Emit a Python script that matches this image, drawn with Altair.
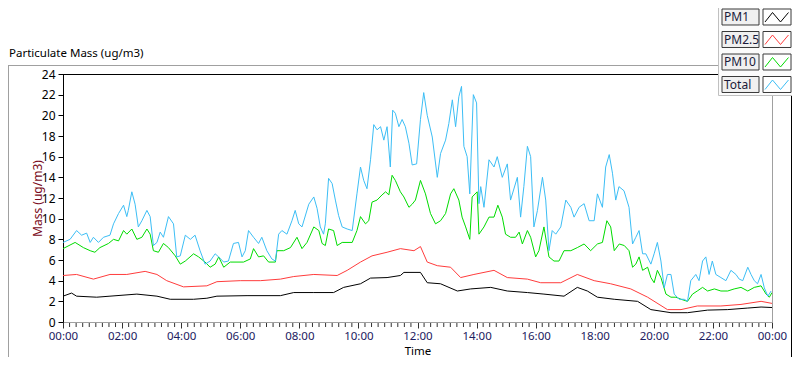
import altair as alt
import pandas as pd

FONT = "Noto Sans"

series_names = ["PM1", "PM2.5", "PM10", "Total"]
series_colors = ["#000000", "#ff3c3c", "#00dc00", "#3cbef5"]

pm1_t = [0.00, 0.29, 0.46, 1.14, 1.59, 2.50, 3.18, 3.63, 4.42, 4.87, 5.21, 6.23, 7.36, 7.81, 8.49,
         9.16, 9.50, 10.07, 10.41, 10.97, 11.42, 11.54, 12.10, 12.33, 12.78, 13.35, 13.80, 14.48,
         15.04, 15.72, 16.28, 16.96, 17.41, 17.75, 18.09, 18.66, 19.45, 19.90, 20.58, 21.14, 21.82,
         22.50, 23.18, 23.63, 24.00]
pm1_v = [2.5, 2.8, 2.5, 2.4, 2.5, 2.7, 2.5, 2.2, 2.2, 2.3, 2.5, 2.55, 2.55, 2.85, 2.85,
         2.85, 3.35, 3.7, 4.25, 4.3, 4.5, 4.8, 4.8, 3.8, 3.7, 3.0, 3.2, 3.35,
         3.0, 2.85, 2.7, 2.5, 3.35, 3.0, 2.4, 2.2, 2.0, 1.2, 0.9, 0.9, 1.15,
         1.2, 1.35, 1.45, 1.4]

pm25_t = [0.00, 0.46, 1.03, 1.59, 2.16, 2.78, 3.18, 3.51, 4.08, 4.87, 5.21, 6.00, 6.68, 7.36, 7.81,
          8.49, 9.28, 9.62, 10.07, 10.46, 10.97, 11.42, 11.88, 12.10, 12.33, 12.67, 13.12, 13.46,
          13.91, 14.59, 15.04, 15.72, 16.17, 16.85, 17.41, 17.98, 18.54, 19.22, 19.79, 20.46, 20.92,
          21.47, 22.27, 22.95, 23.63, 24.00]
pm25_v = [4.5, 4.6, 4.15, 4.6, 4.6, 4.9, 4.6, 4.0, 3.4, 3.5, 3.9, 4.0, 4.0, 4.15, 4.4,
          4.6, 4.5, 5.0, 5.8, 6.4, 6.75, 7.1, 6.9, 7.3, 5.8, 5.45, 5.3, 4.3,
          4.6, 5.0, 4.3, 4.15, 3.8, 3.8, 4.6, 4.0, 3.7, 3.2, 2.4, 1.2, 1.2,
          1.55, 1.55, 1.7, 2.0, 1.8]

pm10_t = [0.00, 0.41, 0.69, 0.92, 1.08, 1.25, 1.54, 1.71, 1.88, 2.05, 2.16, 2.33, 2.50, 2.67, 2.84,
          2.95, 3.06, 3.23, 3.40, 3.57, 3.80, 3.97, 4.14, 4.42, 4.59, 4.81, 4.98, 5.15, 5.27, 5.44,
          5.66, 5.89, 6.11, 6.34, 6.45, 6.62, 6.79, 6.96, 7.19, 7.24, 7.47, 7.70, 7.92, 8.09, 8.26,
          8.49, 8.66, 8.77, 8.88, 8.99, 9.16, 9.28, 9.45, 9.79, 9.95, 10.07, 10.24, 10.35, 10.46,
          10.63, 10.80, 10.92, 11.03, 11.14, 11.25, 11.42, 11.54, 11.71, 11.82, 11.93, 12.10, 12.27,
          12.44, 12.61, 12.78, 12.95, 13.12, 13.23, 13.40, 13.51, 13.63, 13.77, 13.85, 14.02, 14.08,
          14.25, 14.42, 14.59, 14.72, 14.87, 14.98, 15.15, 15.32, 15.44, 15.55, 15.72, 15.83, 16.00,
          16.11, 16.28, 16.45, 16.62, 16.79, 16.96, 17.19, 17.41, 17.64, 17.86, 18.09, 18.26, 18.41,
          18.54, 18.66, 18.83, 19.00, 19.16, 19.28, 19.39, 19.50, 19.62, 19.79, 19.90, 20.01, 20.12,
          20.24, 20.41, 20.58, 20.75, 20.92, 21.14, 21.31, 21.47, 21.65, 21.82, 22.05, 22.27, 22.50,
          22.72, 22.95, 23.18, 23.40, 23.63, 23.80, 23.91, 24.00]
pm10_v = [7.1, 7.7, 7.2, 6.9, 6.75, 7.2, 7.6, 8.0, 7.85, 8.85, 8.5, 9.0, 8.0, 8.2, 9.0,
          8.5, 6.9, 6.75, 7.6, 7.2, 6.4, 5.6, 5.9, 6.6, 6.3, 5.8, 5.3, 5.6, 6.3, 5.3,
          5.8, 5.8, 5.8, 6.1, 7.1, 6.3, 6.4, 5.8, 5.8, 6.9, 6.9, 7.2, 8.2, 7.1, 7.7,
          9.2, 8.85, 7.6, 7.4, 9.0, 8.85, 7.4, 7.7, 7.7, 8.85, 10.2, 9.5, 9.8, 11.6,
          11.8, 12.3, 12.6, 12.3, 14.2, 13.7, 12.6, 12.1, 11.1, 11.4, 11.8, 13.7, 12.4,
          10.5, 9.5, 9.8, 10.5, 12.4, 12.9, 11.8, 10.15, 9.2, 8.0, 12.1, 12.6, 8.5,
          9.2, 10.15, 10.15, 11.3, 10.15, 8.5, 8.2, 8.2, 8.7, 7.55, 8.85, 8.2, 6.3,
          6.9, 9.2, 6.3, 5.9, 5.9, 6.9, 6.9, 7.2, 7.55, 6.9, 7.55, 7.7, 9.8,
          9.2, 6.9, 7.55, 7.4, 6.9, 5.3, 5.6, 6.3, 5.0, 5.3, 4.3, 3.8, 5.0,
          4.3, 2.7, 2.4, 2.4, 2.2, 2.0, 2.7, 3.0, 3.35, 3.0, 3.2, 3.0, 3.0,
          3.2, 3.35, 3.0, 3.35, 3.5, 2.7, 2.4, 2.85]

total_t = [0.00, 0.24, 0.46, 0.63, 0.80, 0.92, 1.03, 1.20, 1.37, 1.59, 1.71, 1.88, 2.05, 2.16, 2.21,
           2.33, 2.44, 2.55, 2.67, 2.84, 2.95, 3.06, 3.18, 3.29, 3.40, 3.57, 3.74, 3.85, 3.97, 4.14,
           4.31, 4.47, 4.64, 4.81, 4.98, 5.15, 5.27, 5.44, 5.60, 5.77, 5.94, 6.06, 6.17, 6.28, 6.45,
           6.62, 6.73, 6.90, 7.07, 7.19, 7.30, 7.41, 7.58, 7.75, 7.86, 7.98, 8.09, 8.32, 8.49, 8.60,
           8.71, 8.82, 8.88, 8.99, 9.11, 9.22, 9.33, 9.45, 9.62, 9.79, 9.95, 10.07, 10.18, 10.29,
           10.41, 10.52, 10.63, 10.75, 10.86, 10.97, 11.08, 11.16, 11.25, 11.37, 11.48, 11.59, 11.71,
           11.82, 11.97, 12.10, 12.21, 12.33, 12.50, 12.67, 12.78, 12.95, 13.06, 13.18, 13.29, 13.40,
           13.49, 13.57, 13.68, 13.77, 13.89, 14.00, 14.08, 14.14, 14.25, 14.42, 14.59, 14.70, 14.87,
           15.04, 15.15, 15.38, 15.49, 15.60, 15.72, 15.83, 15.94, 16.06, 16.23, 16.34, 16.45, 16.56,
           16.68, 16.85, 17.02, 17.19, 17.30, 17.47, 17.64, 17.81, 17.98, 18.09, 18.26, 18.37, 18.49,
           18.60, 18.71, 18.82, 18.99, 19.16, 19.28, 19.39, 19.50, 19.62, 19.73, 19.90, 20.01, 20.12,
           20.24, 20.35, 20.46, 20.58, 20.69, 20.86, 21.03, 21.14, 21.25, 21.42, 21.53, 21.65, 21.76,
           21.87, 21.98, 22.10, 22.27, 22.44, 22.61, 22.78, 22.89, 23.01, 23.18, 23.29, 23.40, 23.51,
           23.63, 23.74, 23.86, 23.97]
total_v = [7.7, 8.0, 8.85, 8.4, 8.6, 7.7, 8.2, 7.7, 8.2, 8.4, 9.5, 10.5, 11.3, 10.2, 10.8,
           12.6, 11.4, 9.2, 9.8, 10.8, 10.2, 7.4, 7.7, 8.7, 8.2, 10.2, 9.5, 6.3, 6.4, 8.4,
           8.0, 8.4, 6.9, 5.6, 5.9, 6.6, 6.3, 5.8, 5.9, 7.6, 7.7, 6.3, 6.9, 8.85, 8.2,
           7.6, 8.2, 6.9, 6.1, 5.9, 8.5, 8.85, 8.5, 9.8, 10.8, 9.5, 9.2, 11.4, 12.1, 11.0,
           9.2, 8.5, 9.5, 13.9, 13.4, 11.8, 10.3, 9.2, 9.0, 8.85, 12.4, 15.0, 13.7, 12.9,
           15.7, 19.1, 18.6, 18.9, 17.6, 18.9, 15.0, 20.5, 20.2, 18.9, 19.6, 18.9, 17.3,
           15.2, 15.3, 19.6, 22.2, 20.0, 17.9, 14.0, 16.3, 17.6, 19.2, 21.5, 18.9, 21.8,
           22.8, 17.0, 16.0, 12.4, 22.0, 21.2, 11.45, 13.1, 11.1, 15.7, 15.0, 16.0, 14.0,
           15.3, 11.8, 14.0, 10.15, 13.1, 17.0, 16.0, 9.2, 10.8, 14.0, 11.8, 6.9, 8.85,
           8.5, 9.2, 11.8, 11.1, 10.15, 11.1, 11.45, 9.8, 9.8, 12.4, 11.1, 15.0, 16.2,
           14.4, 11.8, 13.1, 12.7, 11.1, 7.55, 8.2, 8.85, 6.6, 6.6, 5.6, 6.6, 7.7,
           5.9, 3.3, 4.6, 4.6, 2.7, 2.2, 2.2, 2.0, 4.0, 4.6, 4.0, 5.9, 6.3,
           4.6, 5.9, 4.6, 4.3, 4.0, 5.0, 4.6, 4.15, 4.0, 5.3, 4.6, 4.0, 3.7,
           4.6, 3.3, 2.5, 3.0]

x_major = list(range(0, 25, 2))
y_major = list(range(0, 25, 2))
x_minor = [k * 2 / 9 for k in range(0, 109) if k % 9 != 0]

rows = []
for name, ts, vs in [("PM1", pm1_t, pm1_v), ("PM2.5", pm25_t, pm25_v),
                     ("PM10", pm10_t, pm10_v), ("Total", total_t, total_v)]:
    for t, v in zip(ts, vs):
        rows.append({"t": t, "v": v, "series": name})
df = pd.DataFrame(rows)

W, H = 709, 248
color_scale = alt.Scale(domain=series_names, range=series_colors)
xscale = alt.Scale(domain=[0, 24], nice=False, zero=False)

lines = alt.Chart(df).mark_line(strokeWidth=1, clip=True).encode(
    x=alt.X("t:Q", scale=xscale, title="Time",
            axis=alt.Axis(values=x_major, tickSize=6, tickColor="#333333", domainColor="#a0a0a0",
                          labelExpr="(datum.value % 24 < 10 ? '0' : '') + (datum.value % 24) + ':00'",
                          labelFont=FONT, labelFontSize=11.5, labelColor="#1c2060", labelPadding=2,
                          labelFlush=False, labelOverlap=False, grid=False,
                          titleFont=FONT, titleFontSize=11.5, titleFontWeight="normal", titleColor="#000000",
                          titleY=29.5, titleBaseline="middle")),
    y=alt.Y("v:Q", scale=alt.Scale(domain=[0, 24], nice=False), title="Mass (ug/m3)",
            axis=alt.Axis(values=y_major, tickSize=5, tickColor="#000000", domainColor="#000000",
                          labelFont=FONT, labelFontSize=12, labelColor="#000000", labelPadding=3,
                          labelFlush=False, labelOverlap=False, grid=False,
                          titleFont=FONT, titleFontSize=12, titleFontWeight="normal", titleColor="#7a0a20",
                          titleX=-26, titleY=124, titleAngle=-90, titleBaseline="middle", titleAlign="center")),
    color=alt.Color("series:N", scale=color_scale, legend=None),
    detail="series:N",
)

minor = alt.Chart(pd.DataFrame({"t": x_minor})).mark_rule(color="#333333", strokeWidth=1).encode(
    x=alt.X("t:Q", scale=xscale, title="Time"),
    y=alt.value(249), y2=alt.value(253),
)

one = pd.DataFrame({"k": [0]})


def hrule(x1, x2, y, color):
    return alt.Chart(one).mark_rule(color=color, strokeWidth=1).encode(
        x=alt.value(x1), x2=alt.value(x2), y=alt.value(y))


def vrule(x, y1, y2, color):
    return alt.Chart(one).mark_rule(color=color, strokeWidth=1).encode(
        x=alt.value(x), y=alt.value(y1), y2=alt.value(y2))


frame = [
    hrule(-55, 659, -8.5, "#a0a0a0"),      # title underline
    vrule(-54.5, -8.5, 290, "#a0a0a0"),    # outer left
    vrule(728.5, 22, 290, "#000000"),      # outer right
    hrule(0, 659, 0.5, "#000000"),         # plot top
    vrule(709.5, 0, 248, "#a0a0a0"),       # plot right
]

panel = alt.Chart(one).mark_rect(fill="#fbfbfb", stroke="#c0c0c0", strokeWidth=1).encode(
    x=alt.value(655.5), x2=alt.value(740), y=alt.value(-70), y2=alt.value(21.5))

leg = pd.DataFrame({"series": series_names})
ly = alt.Y("series:N", scale=alt.Scale(type="point", domain=series_names, range=[-57, 10.5], padding=0),
           axis=None)

box_label = alt.Chart(leg).mark_point(
    shape="M-1,-0.432H1V0.432H-1Z", size=1369, filled=True, fill="#f0f0f0", stroke="#3a3a3a",
    strokeWidth=1, opacity=1).encode(x=alt.value(677.5), y=ly)
box_glyph = alt.Chart(leg).mark_point(
    shape="M-1,-0.571H1V0.571H-1Z", size=784, filled=True, fill="#ffffff", stroke="#3a3a3a",
    strokeWidth=1, opacity=1).encode(x=alt.value(714), y=ly)
glyph = alt.Chart(leg).mark_point(
    shape="M-0.857,0.357L-0.32,-0.32L0.25,0.357L0.82,-0.32", size=784, filled=False,
    strokeWidth=1, opacity=1).encode(
    x=alt.value(714), y=ly, color=alt.Color("series:N", scale=color_scale, legend=None))
label = alt.Chart(leg).mark_text(align="left", baseline="middle", font=FONT, fontSize=12,
                                 color="#1a1a3a").encode(x=alt.value(661), y=ly, text="series:N")

title = alt.Chart(one).mark_text(align="left", baseline="middle", font=FONT, fontSize=11.5,
                                 color="#000000").encode(
    x=alt.value(-54), y=alt.value(-20), text=alt.value("Particulate Mass (ug/m3)"))

chart = alt.layer(
    *frame, lines, minor, panel, box_label, box_glyph, glyph, label, title
).resolve_scale(y="independent").properties(
    width=W, height=H,
    autosize=alt.AutoSizeParams(type="none"),
    padding={"left": 55, "top": 66, "right": 20, "bottom": 35},
).configure_view(stroke=None).configure(background="#ffffff")

chart.save("out.html", embed_options={"renderer": "svg", "actions": False})
